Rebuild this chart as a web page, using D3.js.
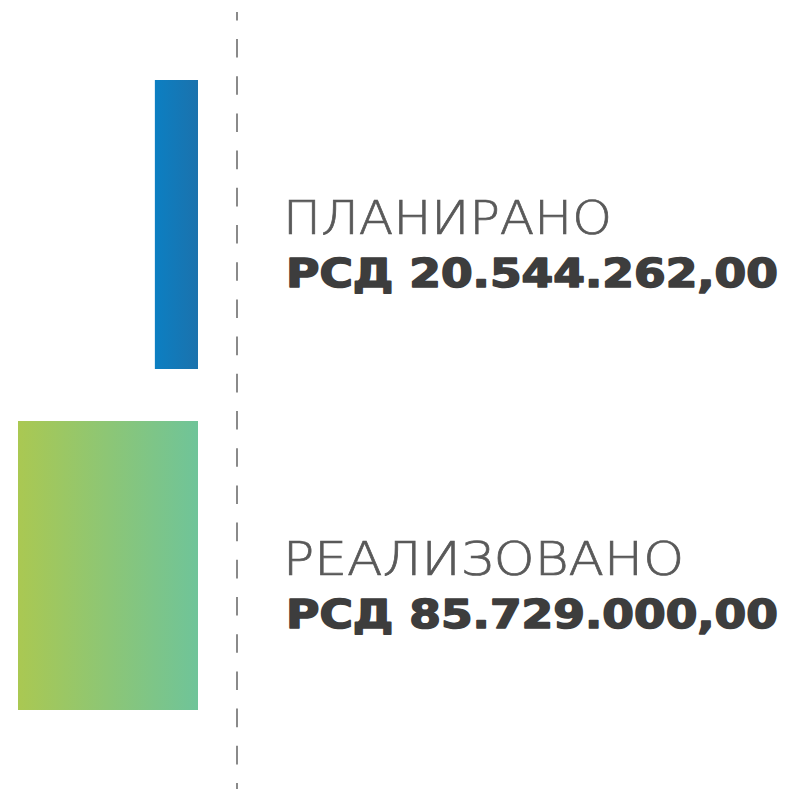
<!DOCTYPE html>
<html><head><meta charset="utf-8">
<script src="https://cdn.jsdelivr.net/npm/d3@7"></script>
<style>html,body{margin:0;padding:0;background:#fff;}svg{display:block;}</style>
</head><body>
<svg id="chart" width="789" height="789"></svg>
<script>
const categories = ["ПЛАНИРАНО", "РЕАЛИЗОВАНО"];
const values = [20544262, 85729000];
const valueLabels = ["РСД 20.544.262,00", "РСД 85.729.000,00"];
const gradientStops = [["#0c7fc2", "#1b72ad"], ["#aac852", "#6fc499"]];

const svg = d3.select("#chart");
const W = 789, H = 789;
const baseX = 198;

const x = d3.scaleLinear().domain([0, d3.max(values)]).range([0, 180]);
const y = d3.scaleBand().domain(categories).range([80, 710]).paddingInner(52/341).paddingOuter(0);

const defs = svg.append("defs");
categories.forEach((c, i) => {
  const g = defs.append("linearGradient").attr("id", "grad" + i)
    .attr("x1", "0%").attr("x2", "100%").attr("y1", "0%").attr("y2", "0%");
  g.append("stop").attr("offset", "0%").attr("stop-color", gradientStops[i][0]);
  g.append("stop").attr("offset", "100%").attr("stop-color", gradientStops[i][1]);
});

svg.selectAll("rect.bar").data(categories).join("rect")
  .attr("class", "bar")
  .attr("x", (d, i) => baseX - x(values[i]))
  .attr("width", (d, i) => x(values[i]))
  .attr("y", d => y(d))
  .attr("height", y.bandwidth())
  .attr("fill", (d, i) => `url(#grad${i})`);

// dashed divider
svg.append("line")
  .attr("x1", 237).attr("x2", 237)
  .attr("y1", 12).attr("y2", H)
  .attr("stroke", "#8a8a8a").attr("stroke-width", 2)
  .attr("stroke-dasharray", "18.6 18.6")
  .attr("stroke-dashoffset", 10.2);

const labelWidths = [329, 401];
const groups = svg.selectAll("g.lbl").data(categories).join("g").attr("class", "lbl");
groups.append("text")
  .attr("x", 283)
  .attr("y", d => y(d) + y.bandwidth() / 2 + 9.5)
  .attr("font-family", "'DejaVu Sans', sans-serif")
  .attr("font-weight", 200)
  .attr("font-size", 46)
  .attr("fill", "#595959")
  .attr("stroke", "#595959")
  .attr("stroke-width", 0.7)
  .attr("textLength", (d, i) => labelWidths[i])
  .attr("lengthAdjust", "spacingAndGlyphs")
  .text(d => d);
groups.append("text")
  .attr("x", 286)
  .attr("y", d => y(d) + y.bandwidth() / 2 + 62)
  .attr("font-family", "'DejaVu Sans', sans-serif")
  .attr("font-weight", 700)
  .attr("font-size", 39)
  .attr("fill", "#3d3d3d")
  .attr("stroke", "#3d3d3d")
  .attr("stroke-width", 1.6)
  .attr("stroke-linejoin", "round")
  .attr("textLength", 492)
  .attr("lengthAdjust", "spacingAndGlyphs")
  .text((d, i) => valueLabels[i]);
</script>
</body></html>
